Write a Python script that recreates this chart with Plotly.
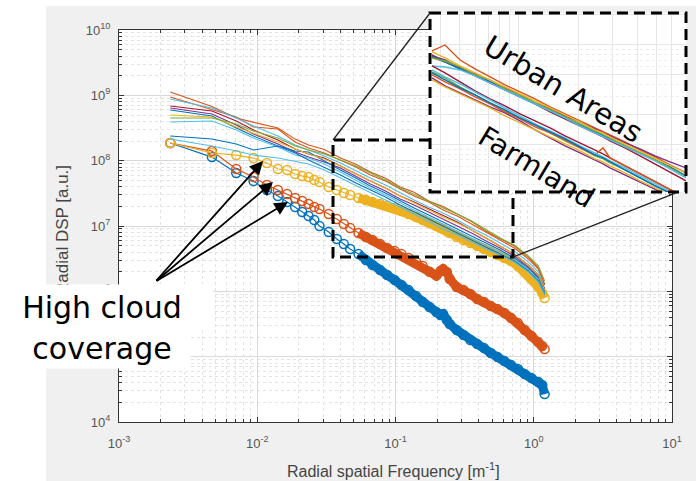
import numpy as np
import plotly.graph_objects as go

# ---------------------------------------------------------------------------
# Radial DSP of single scenes versus radial spatial frequency
# ---------------------------------------------------------------------------

# frequency samples of the marker curves [m^-1]
freq_marked = [0.00235, 0.0047, 0.00705, 0.0094, 0.01175, 0.0141, 0.01645, 0.0188,
               0.02115, 0.0235, 0.02585, 0.0282, 0.0329, 0.0376, 0.0423, 0.047,
               0.05405, 0.0611, 0.06815, 0.07755, 0.08695, 0.0987, 0.11045, 0.12455,
               0.141, 0.15745, 0.17625, 0.1974, 0.2115, 0.2209, 0.235, 0.24675,
               0.2773, 0.3102, 0.3478, 0.3901, 0.4371, 0.4888, 0.54755, 0.61335,
               0.6862, 0.76845, 0.8601, 0.9635, 1.07865, 1.1515, 1.1985]

# log10(DSP) of the three high-cloud-coverage scenes
cloud_blue_log = [8.270, 8.055, 7.810, 7.688, 7.550, 7.458, 7.366, 7.290, 7.213, 7.152,
                  7.091, 6.999, 6.907, 6.800, 6.723, 6.647, 6.570, 6.478, 6.402, 6.325,
                  6.249, 6.172, 6.096, 6.019, 5.927, 5.835, 5.759, 5.682, 5.636, 5.652,
                  5.560, 5.499, 5.407, 5.330, 5.254, 5.192, 5.131, 5.055, 4.993, 4.932,
                  4.871, 4.810, 4.733, 4.672, 4.611, 4.565, 4.427]
cloud_orange_log = [8.270, 8.147, 7.872, 7.749, 7.627, 7.550, 7.489, 7.428, 7.382, 7.336,
                    7.290, 7.259, 7.183, 7.106, 7.030, 6.968, 6.892, 6.831, 6.785, 6.723,
                    6.662, 6.616, 6.570, 6.509, 6.448, 6.387, 6.300, 6.240, 6.310, 6.340,
                    6.295, 6.190, 6.065, 6.019, 5.958, 5.881, 5.835, 5.774, 5.728, 5.667,
                    5.590, 5.514, 5.407, 5.315, 5.223, 5.162, 5.116]
cloud_yellow_log = [8.270, 8.117, 8.086, 8.040, 7.963, 7.872, 7.856, 7.795, 7.764, 7.749,
                    7.703, 7.673, 7.596, 7.550, 7.504, 7.474, 7.428, 7.397, 7.366, 7.336,
                    7.305, 7.275, 7.229, 7.183, 7.137, 7.091, 7.045, 6.999, 6.968, 6.953,
                    6.922, 6.892, 6.831, 6.785, 6.739, 6.693, 6.647, 6.601, 6.555, 6.509,
                    6.463, 6.387, 6.295, 6.188, 6.065, 5.973, 5.897]

# frequency samples of the clear-sky scenes [m^-1]
freq_lines = [0.00235, 0.0047, 0.00705, 0.0094, 0.0141, 0.0188, 0.0235, 0.03055,
              0.03995, 0.0517, 0.0658, 0.0846, 0.1081, 0.1363, 0.1739, 0.2209,
              0.27965, 0.35485, 0.4512, 0.57105, 0.7238, 0.9165, 1.081, 1.1985]

# log10(DSP) of the clear-sky scenes
scene_a_log = [9.050, 8.830, 8.652, 8.590, 8.499, 8.330, 8.239, 8.170, 8.040, 7.945, 7.826, 7.730,
               7.596, 7.515, 7.382, 7.300, 7.183, 7.070, 6.922, 6.810, 6.693, 6.520, 6.356, 6.111]
scene_b_log = [8.974, 8.775, 8.668, 8.515, 8.484, 8.285, 8.193, 8.117, 8.009, 7.902, 7.780, 7.688,
               7.565, 7.458, 7.366, 7.244, 7.152, 7.030, 6.907, 6.785, 6.662, 6.494, 6.341, 6.096]
scene_c_log = [8.943, 8.806, 8.652, 8.530, 8.377, 8.239, 8.163, 8.071, 7.964, 7.841, 7.734, 7.627,
               7.504, 7.397, 7.290, 7.198, 7.091, 6.968, 6.861, 6.739, 6.616, 6.448, 6.295, 6.050]
scene_d_log = [8.836, 8.760, 8.607, 8.469, 8.316, 8.178, 8.101, 8.040, 7.918, 7.795, 7.688, 7.581,
               7.458, 7.366, 7.259, 7.152, 7.060, 6.938, 6.815, 6.693, 6.570, 6.402, 6.249, 6.034]
scene_e_log = [8.806, 8.714, 8.545, 8.408, 8.254, 8.132, 8.055, 7.979, 7.887, 7.764, 7.642, 7.535,
               7.412, 7.320, 7.213, 7.106, 6.999, 6.892, 6.769, 6.662, 6.540, 6.371, 6.218, 6.004]
scene_f_log = [8.775, 8.683, 8.499, 8.377, 8.224, 8.147, 8.132, 7.994, 7.856, 7.734, 7.611, 7.504,
               7.382, 7.275, 7.167, 7.060, 6.953, 6.846, 6.739, 6.632, 6.509, 6.356, 6.203, 5.989]
scene_g_log = [8.698, 8.668, 8.515, 8.423, 8.285, 8.178, 8.101, 8.025, 7.918, 7.795, 7.688, 7.581,
               7.458, 7.351, 7.244, 7.137, 7.045, 6.938, 6.815, 6.693, 6.570, 6.402, 6.249, 6.019]
scene_h_log = [8.652, 8.652, 8.561, 8.453, 8.346, 8.224, 8.163, 8.101, 8.009, 7.918, 7.810, 7.703,
               7.581, 7.489, 7.382, 7.275, 7.183, 7.076, 6.938, 6.815, 6.708, 6.540, 6.387, 6.157]
scene_i_log = [8.591, 8.607, 8.469, 8.346, 8.208, 8.086, 8.040, 7.948, 7.826, 7.703, 7.581, 7.474,
               7.351, 7.244, 7.137, 7.030, 6.922, 6.815, 6.708, 6.601, 6.494, 6.325, 6.172, 5.973]
scene_j_log = [8.377, 8.331, 8.254, 8.163, 8.224, 8.117, 8.009, 7.902, 7.780, 7.657, 7.550, 7.443,
               7.320, 7.213, 7.106, 6.999, 6.892, 6.785, 6.677, 6.570, 6.463, 6.310, 6.157, 5.958]
scene_k_log = [8.331, 8.224, 8.147, 8.086, 8.040, 7.994, 7.948, 7.856, 7.734, 7.611, 7.504, 7.397,
               7.290, 7.183, 7.060, 6.953, 6.861, 6.754, 6.647, 6.555, 6.448, 6.295, 6.142, 5.943]

# ---------------------------------------------------------------------------
# Zoomed panel: urban areas vs farmland
# ---------------------------------------------------------------------------
freq_zoom = [0.03615, 0.0421, 0.05019, 0.05981, 0.07133, 0.085, 0.1013, 0.1208, 0.144,
             0.1716, 0.2046, 0.2438, 0.2679, 0.2906, 0.3465, 0.4131, 0.4925, 0.587, 0.7079]

urban_a_log = [7.936, 7.996, 7.846, 7.756, 7.676, 7.596, 7.526, 7.456, 7.376, 7.306,
               7.236, 7.166, 7.126, 7.096, 7.026, 6.946, 6.876, 6.796, 6.716]
urban_b_log = [7.896, 7.826, 7.756, 7.686, 7.616, 7.546, 7.476, 7.406, 7.326, 7.256,
               7.186, 7.116, 7.076, 7.036, 6.966, 6.886, 6.806, 6.726, 6.636]
urban_c_log = [7.886, 7.846, 7.766, 7.706, 7.626, 7.566, 7.496, 7.416, 7.356, 7.286,
               7.226, 7.156, 7.126, 7.086, 7.016, 6.956, 6.886, 6.826, 6.766]
urban_d_log = [7.876, 7.826, 7.756, 7.696, 7.626, 7.546, 7.476, 7.406, 7.336, 7.266,
               7.196, 7.126, 7.096, 7.056, 6.986, 6.916, 6.846, 6.776, 6.686]
urban_e_log = [7.866, 7.836, 7.776, 7.696, 7.646, 7.556, 7.496, 7.416, 7.346, 7.276,
               7.206, 7.136, 7.106, 7.066, 6.986, 6.916, 6.846, 6.766, 6.676]
urban_f_log = [7.926, 7.866, 7.786, 7.716, 7.646, 7.576, 7.506, 7.436, 7.366, 7.296,
               7.226, 7.146, 7.116, 7.076, 7.006, 6.936, 6.866, 6.796, 6.716]
urban_g_log = [7.786, 7.776, 7.746, 7.686, 7.616, 7.546, 7.476, 7.406, 7.336, 7.266,
               7.186, 7.116, 7.086, 7.046, 6.976, 6.906, 6.836, 6.756, 6.666]

farm_a_log = [7.786, 7.716, 7.626, 7.536, 7.456, 7.386, 7.306, 7.236, 7.166, 7.086,
              7.016, 6.946, 6.906, 6.866, 6.786, 6.706, 6.626, 6.546, 6.466]
farm_b_log = [7.666, 7.586, 7.516, 7.446, 7.376, 7.316, 7.236, 7.146, 7.066, 6.986,
              6.916, 6.846, 6.806, 6.766, 6.696, 6.626, 6.556, 6.486, 6.406]
farm_c_log = [7.726, 7.666, 7.576, 7.496, 7.416, 7.336, 7.266, 7.196, 7.116, 7.036,
              6.966, 6.886, 6.856, 6.816, 6.746, 6.666, 6.586, 6.506, 6.426]
farm_d_log = [7.696, 7.626, 7.556, 7.476, 7.406, 7.326, 7.256, 7.176, 7.116, 7.046,
              6.966, 6.896, 6.966, 6.866, 6.786, 6.706, 6.626, 6.546, 6.466]
farm_e_log = [7.746, 7.676, 7.606, 7.526, 7.446, 7.366, 7.286, 7.206, 7.136, 7.066,
              6.986, 6.916, 6.876, 6.836, 6.766, 6.686, 6.606, 6.526, 6.446]
farm_f_log = [7.646, 7.576, 7.506, 7.436, 7.366, 7.286, 7.216, 7.146, 7.076, 7.006,
              6.936, 6.856, 6.826, 6.786, 6.716, 6.636, 6.566, 6.486, 6.406]
farm_g_log = [7.716, 7.646, 7.566, 7.496, 7.416, 7.346, 7.266, 7.196, 7.126, 7.056,
              6.976, 6.896, 6.866, 6.826, 6.746, 6.666, 6.586, 6.516, 6.436]

# axis ticks
x_tick_vals = [1e-3, 1e-2, 1e-1, 1e0, 1e1]
x_tick_text = ["10<sup>-3</sup>", "10<sup>-2</sup>", "10<sup>-1</sup>", "10<sup>0</sup>", "10<sup>1</sup>"]
y_tick_vals = [1e4, 1e5, 1e6, 1e7, 1e8, 1e9, 1e10]
y_tick_text = ["10<sup>4</sup>", "10<sup>5</sup>", "10<sup>6</sup>", "10<sup>7</sup>",
               "10<sup>8</sup>", "10<sup>9</sup>", "10<sup>10</sup>"]

# MATLAB default colour order
BLUE, ORANGE, YELLOW = "#0072BD", "#D95319", "#EDB120"
PURPLE, GREEN, LBLUE, DRED = "#7E2F8E", "#77AC30", "#4DBEEE", "#A2142F"

fig = go.Figure()

# high cloud coverage: dense open circles merge into a thick band
BAND_START = 16
for vals, col in [(cloud_blue_log, BLUE), (cloud_orange_log, ORANGE), (cloud_yellow_log, YELLOW)]:
    y = 10 ** np.array(vals)
    fig.add_trace(go.Scatter(x=freq_marked[BAND_START:], y=y[BAND_START:], mode="lines",
                             line=dict(color=col, width=9), hoverinfo="skip"))
    fig.add_trace(go.Scatter(x=freq_marked, y=y, mode="lines+markers",
                             line=dict(color=col, width=1.2),
                             marker=dict(symbol="circle-open", size=9, color=col,
                                         line=dict(width=1.5, color=col))))

scenes = [(scene_a_log, ORANGE), (scene_b_log, ORANGE), (scene_c_log, LBLUE),
          (scene_d_log, DRED), (scene_e_log, PURPLE), (scene_f_log, BLUE),
          (scene_g_log, YELLOW), (scene_h_log, GREEN), (scene_i_log, LBLUE),
          (scene_j_log, BLUE), (scene_k_log, LBLUE)]
for vals, col in scenes:
    fig.add_trace(go.Scatter(x=freq_lines, y=10 ** np.array(vals), mode="lines",
                             line=dict(color=col, width=1.1)))

zoom_curves = [(urban_a_log, ORANGE), (urban_b_log, DRED), (urban_c_log, PURPLE),
               (urban_d_log, BLUE), (urban_e_log, GREEN), (urban_f_log, YELLOW),
               (urban_g_log, LBLUE),
               (farm_a_log, DRED), (farm_b_log, PURPLE), (farm_c_log, GREEN),
               (farm_d_log, ORANGE), (farm_e_log, LBLUE), (farm_f_log, YELLOW),
               (farm_g_log, BLUE)]
for vals, col in zoom_curves:
    fig.add_trace(go.Scatter(x=freq_zoom, y=10 ** np.array(vals), mode="lines",
                             line=dict(color=col, width=1.4), xaxis="x2", yaxis="y2"))

AXC = "#333333"
tickfont = dict(family="Liberation Sans, Arial, sans-serif", size=13, color="#555555")
minor = dict(dtick="D1", ticks="inside", ticklen=3, tickcolor=AXC,
             showgrid=True, gridcolor="#e3e3e3", griddash="dot")

fig.update_layout(
    template="none",
    width=696, height=481, autosize=False,
    margin=dict(l=119, r=6, t=10, b=59, pad=0, autoexpand=False),
    paper_bgcolor="#f0f0f0", plot_bgcolor="#ffffff",
    showlegend=False,
    xaxis=dict(type="log", range=[-3, 1], domain=[0, 0.968476], anchor="y",
               automargin=False,
               tickmode="array", tickvals=x_tick_vals, ticktext=x_tick_text,
               ticks="inside", ticklen=5, tickcolor=AXC, tickfont=tickfont,
               ticklabelstandoff=9,
               showline=True, linecolor=AXC, linewidth=1, mirror="allticks",
               showgrid=True, gridcolor="#d9d9d9", gridwidth=1,
               minor=minor, zeroline=False),
    yaxis=dict(type="log", range=[4, 10], domain=[0, 0.951456], anchor="x",
               automargin=False,
               tickmode="array", tickvals=y_tick_vals, ticktext=y_tick_text,
               ticks="inside", ticklen=5, tickcolor=AXC, tickfont=tickfont,
               ticklabelstandoff=5,
               showline=True, linecolor=AXC, linewidth=1, mirror="allticks",
               showgrid=True, gridcolor="#d9d9d9", gridwidth=1,
               minor=minor, zeroline=False),
    xaxis2=dict(type="log", range=[-1.452, -0.150], domain=[0.5447, 0.9930], anchor="y2",
                automargin=False,
                showticklabels=False, ticks="", showline=False, zeroline=False,
                showgrid=True, gridcolor="#e6e6e6",
                minor=dict(dtick="D1", showgrid=True, gridcolor="#ececec", griddash="dot")),
    yaxis2=dict(type="log", range=[6.525, 8.316], domain=[0.5583, 0.9927], anchor="x2",
                automargin=False,
                showticklabels=False, ticks="", showline=False, zeroline=False,
                showgrid=True, gridcolor="#e6e6e6",
                minor=dict(dtick="D1", showgrid=True, gridcolor="#ececec", griddash="dot")),
)

DASH = "11px,6px"
shapes = [
    # white page margin around the figure window
    dict(type="rect", xref="paper", yref="paper", x0=-0.21, x1=-0.1278, y0=-0.15, y1=1.03,
         fillcolor="white", line=dict(width=0), layer="below"),
    dict(type="rect", xref="paper", yref="paper", x0=-0.21, x1=1.02, y0=1.0097, y1=1.03,
         fillcolor="white", line=dict(width=0), layer="below"),
    # region that is enlarged in the panel (upper right part hidden by the panel)
    dict(type="path", xref="paper", yref="paper",
         path="M 0.5447 0.6845 L 0.3748 0.6845 L 0.3748 0.4005 L 0.6900 0.4005 L 0.6900 0.5583",
         line=dict(color="black", width=3, dash=DASH), layer="above"),
    # frame of the enlarged panel
    dict(type="rect", xref="paper", yref="paper", x0=0.5447, x1=0.9930, y0=0.5583, y1=0.9927,
         line=dict(color="black", width=3, dash=DASH), layer="above"),
    # connectors
    dict(type="line", xref="paper", yref="paper", x0=0.3748, y0=0.6845, x1=0.5447, y1=0.9927,
         line=dict(color="#222222", width=1.3), layer="above"),
    dict(type="line", xref="paper", yref="paper", x0=0.6900, y0=0.4005, x1=0.9755, y1=0.5560,
         line=dict(color="#222222", width=1.3), layer="above"),
]

label_font = dict(family="DejaVu Sans", size=30, color="black")
annotations = [
    dict(text="Radial DSP [a.u.]", xref="paper", yref="paper", x=-0.0998, y=0.4660,
         textangle=-90, showarrow=False, xanchor="center", yanchor="middle",
         font=dict(family="Liberation Sans, Arial, sans-serif", size=17, color="#444444")),
    dict(text="Radial spatial Frequency [m<sup>-1</sup>]", xref="paper", yref="paper",
         x=0.4799, y=-0.1165, showarrow=False, xanchor="center", yanchor="middle",
         font=dict(family="Liberation Sans, Arial, sans-serif", size=16, color="#444444")),
]
for tx, ty, ax, ay in [(0.2522, 0.6335, -108, 121), (0.2697, 0.5825, -118, 100),
                       (0.2960, 0.5340, -133, 80)]:
    annotations.append(dict(text="", xref="paper", yref="paper", x=tx, y=ty, ax=ax, ay=ay,
                            showarrow=True, arrowhead=2, arrowsize=1.5, arrowwidth=1.8,
                            arrowcolor="black", standoff=0))
annotations += [
    dict(text="High cloud", xref="paper", yref="paper", x=-0.0298, y=0.2791,
         xanchor="center", yanchor="middle", showarrow=False, bgcolor="white",
         width=222, height=44, borderpad=0, font=label_font),
    dict(text="coverage", xref="paper", yref="paper", x=-0.0298, y=0.1784,
         xanchor="center", yanchor="middle", showarrow=False, bgcolor="white",
         width=176, height=40, borderpad=0, font=label_font),
    dict(text="Urban Areas", xref="paper", yref="paper", x=0.7776, y=0.8083,
         textangle=31, showarrow=False, xanchor="center", yanchor="middle",
         font=dict(family="DejaVu Sans", size=29, color="black")),
    dict(text="Farmland", xref="paper", yref="paper", x=0.7320, y=0.6189,
         textangle=31, showarrow=False, xanchor="center", yanchor="middle",
         font=dict(family="DejaVu Sans", size=28, color="black")),
]

fig.update_layout(shapes=shapes, annotations=annotations)
fig.write_html("out.html")
